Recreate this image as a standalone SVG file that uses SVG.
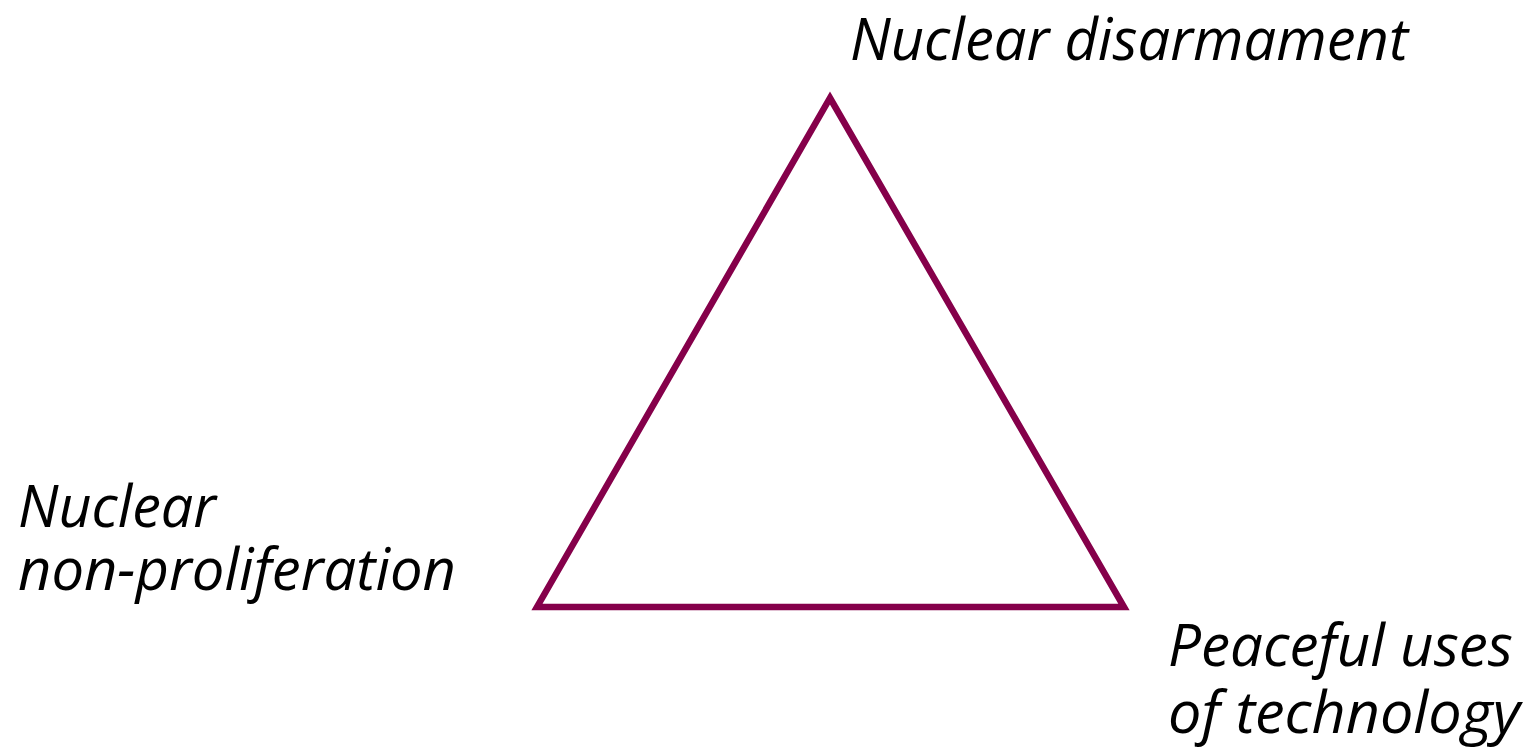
<svg xmlns="http://www.w3.org/2000/svg" width="1526" height="750" viewBox="0 0 1526 750">
<style>
.lbl{font-family:"Open Sans","Noto Sans","Liberation Sans",sans-serif;font-style:italic;font-size:58px;fill:#000}
.edge{stroke:#85004a;stroke-width:6.5;fill:none;stroke-linejoin:miter}
</style>
<rect width="1526" height="750" fill="#fff"/>
<g id="connectors">
<polygon class="edge" points="830,98 1124,607 537,607"/>
</g>
<g id="node-disarmament">
<text class="lbl" x="850" y="60" textLength="558" lengthAdjust="spacingAndGlyphs">Nuclear disarmament</text>
</g>
<g id="node-nonproliferation">
<text class="lbl" x="18" y="527" textLength="198" lengthAdjust="spacingAndGlyphs">Nuclear</text>
<text class="lbl" x="18" y="590" textLength="438" lengthAdjust="spacingAndGlyphs">non-proliferation</text>
</g>
<g id="node-peaceful">
<text class="lbl" x="1168" y="666" textLength="345" lengthAdjust="spacingAndGlyphs">Peaceful uses</text>
<text class="lbl" x="1168" y="733" textLength="352" lengthAdjust="spacingAndGlyphs">of technology</text>
</g>
</svg>
